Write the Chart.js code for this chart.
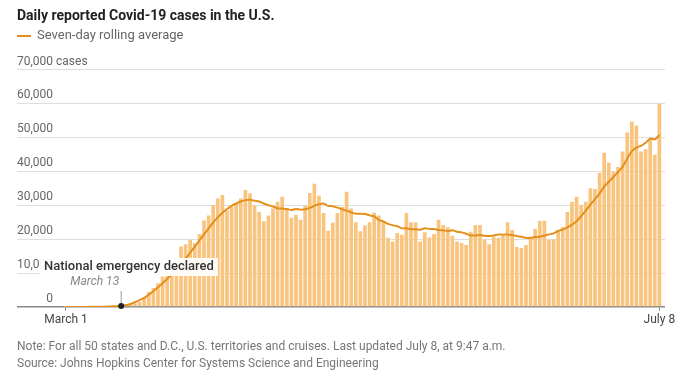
<!DOCTYPE html>
<html lang="en">
<head>
    <meta charset="UTF-8">
    <title>Daily reported Covid-19 cases in the U.S.</title>
    <script src="https://cdn.jsdelivr.net/npm/chart.js"></script>
    <style>
        html, body { margin: 0; padding: 0; background: #fff; }
        #grafico { width: 700px; height: 377px; }
    </style>
</head>
<body>
    <div id="grafico">
        <canvas id="myChart" width="700" height="377"></canvas>
    </div>
</body>
<script>

    // one value per day, March 1 -> July 8
    const dailyCases = [
        10, 15, 25, 30, 70, 100, 120, 120, 190, 280,
        400, 460, 560, 720, 720, 1000, 1500, 2700, 4400, 5600,
        7000, 9000, 10500, 11000, 12400, 17800, 18500, 19800, 18900, 21500,
        25500, 27000, 30000, 32000, 33000, 28500, 29500, 30500, 32000, 34500,
        33500, 30000, 28000, 25300, 27000, 29000, 31000, 32500, 29200, 26300,
        27200, 25700, 30000, 33600, 36300, 32800, 27700, 22500, 24800, 27700,
        29500, 34000, 29000, 25000, 22300, 24000, 25000, 27800, 27000, 25000,
        20400, 19300, 21800, 21300, 27700, 25000, 25000, 19300, 22000, 20500,
        21500, 25700, 24200, 23500, 21000, 19300, 18900, 18300, 22200, 24200,
        24200, 19800, 18500, 20700, 20400, 21000, 25000, 22700, 17700, 17400,
        18300, 20400, 23000, 25400, 25400, 19800, 19800, 22700, 23600, 28000,
        31000, 32500, 30000, 31000, 35000, 34800, 39600, 45500, 42500, 39900,
        41300, 45800, 51400, 54700, 53500, 45800, 46500, 49300, 44900, 60000
    ];

    const rollingAvg = [
        10, 10, 20, 20, 30, 40, 50, 70, 90, 130,
        180, 240, 350, 550, 900, 1400, 2000, 2700, 3600, 4700,
        5800, 7000, 8300, 9600, 11000, 12600, 14200, 16000, 17800, 19600,
        21400, 23200, 24900, 26400, 27800, 28900, 29800, 30500, 31100, 31500,
        31600, 31300, 31100, 30500, 30000, 29600, 29100, 29000, 28900, 28600,
        28900, 28700, 28800, 29200, 29800, 30300, 30500, 29800, 29700, 29300,
        28800, 28400, 27900, 27500, 27500, 27400, 27000, 26700, 25700, 25200,
        24500, 24100, 23800, 23200, 23200, 22900, 22900, 22800, 23200, 23000,
        23000, 22700, 22600, 22400, 22600, 22200, 22000, 21600, 21100, 21100,
        21200, 21000, 20900, 21100, 21400, 21300, 21400, 21200, 20900, 20700,
        20400, 20400, 20600, 20700, 21100, 21400, 21700, 22400, 22800, 23500,
        24300, 25300, 26800, 28400, 30200, 31800, 33400, 35500, 36900, 38300,
        39800, 41300, 43700, 45900, 47000, 47500, 48400, 49600, 49400, 50700
    ];

    const tickDays = [0, 129];
    const tickLabels = ['March 1', 'July 8'];
    const emergencyDay = 12;

    const FONT = 'Roboto, "Noto Sans", sans-serif';
    const barColor = '#f9c47e';
    const lineColor = '#e3901c';

    // title, legend, notes and the emergency annotation
    const textos = {
        id: 'textos',
        afterDraw(chart) {
            const ctx = chart.ctx;
            const x = chart.scales.x;
            const y = chart.scales.y;
            ctx.save();
            ctx.textBaseline = 'middle';
            ctx.textAlign = 'left';

            ctx.fillStyle = '#222';
            ctx.font = 'bold 14px ' + FONT;
            ctx.fillText('Daily reported Covid-19 cases in the U.S.', 17, 16);

            ctx.strokeStyle = lineColor;
            ctx.lineWidth = 2;
            ctx.beginPath();
            ctx.moveTo(17, 36);
            ctx.lineTo(31, 36);
            ctx.stroke();
            ctx.fillStyle = '#666';
            ctx.font = '13px ' + FONT;
            ctx.fillText('Seven-day rolling average', 37, 36);

            // " cases" after the top tick label
            ctx.font = '12px ' + FONT;
            const w = ctx.measureText('70,000').width;
            ctx.fillStyle = '#666';
            ctx.fillText(' cases', y.right + w, y.getPixelForValue(70000) - 8);

            // annotation
            const ex = x.getPixelForValue(emergencyDay);
            const base = y.getPixelForValue(0);
            ctx.font = '500 13px ' + FONT;
            const label = 'National emergency declared';
            const lw = ctx.measureText(label).width;
            ctx.fillStyle = 'rgba(255,255,255,0.92)';
            ctx.fillRect(40, 258, lw + 8, 18);
            ctx.fillStyle = '#333';
            ctx.fillText(label, 44, 267);

            ctx.font = 'italic 12px ' + FONT;
            ctx.fillStyle = '#888';
            ctx.textAlign = 'right';
            ctx.fillText('March 13', ex - 2, 282);

            ctx.strokeStyle = '#999';
            ctx.lineWidth = 1;
            ctx.beginPath();
            ctx.moveTo(ex, 291);
            ctx.lineTo(ex, base);
            ctx.stroke();
            ctx.fillStyle = '#222';
            ctx.beginPath();
            ctx.arc(ex, base - 1, 3, 0, Math.PI * 2);
            ctx.fill();

            ctx.textAlign = 'left';
            ctx.fillStyle = '#777';
            ctx.font = '12px ' + FONT;
            ctx.fillText('Note: For all 50 states and D.C., U.S. territories and cruises. Last updated July 8, at 9:47 a.m.', 17, 347);
            ctx.fillText('Source: Johns Hopkins Center for Systems Science and Engineering', 17, 364);
            ctx.restore();
        }
    };

    const data = {
        datasets: [{
            type: 'line',
            label: 'Seven-day rolling average',
            data: rollingAvg.map((v, i) => ({ x: i, y: v })),
            borderColor: lineColor,
            borderWidth: 2,
            pointRadius: 0,
            tension: 0.3,
            order: 0
        }, {
            type: 'bar',
            label: 'Daily cases',
            data: dailyCases.map((v, i) => ({ x: i, y: v })),
            backgroundColor: barColor,
            barPercentage: 0.8,
            categoryPercentage: 1,
            order: 1
        }]
    };

    const config = {
        data: data,
        options: {
            responsive: false,
            animation: false,
            layout: { padding: { left: 17, right: 35, top: 69.5, bottom: 46 } },
            plugins: {
                legend: { display: false },
                title: { display: false },
                tooltip: { enabled: false }
            },
            scales: {
                x: {
                    type: 'linear',
                    offset: false,
                    min: -10.65,
                    max: 130.22,
                    afterBuildTicks: (s) => { s.ticks = tickDays.map(v => ({ value: v })); },
                    afterFit: (s) => { s.height = 24; },
                    ticks: {
                        callback: (v, i) => tickLabels[i],
                        autoSkip: false,
                        maxRotation: 0,
                        padding: 2,
                        color: '#444',
                        font: { family: FONT, size: 12 }
                    },
                    grid: { offset: false, drawOnChartArea: false, drawTicks: true, tickLength: 4, color: '#999' },
                    border: { display: false }
                },
                y: {
                    min: 0,
                    max: 70000,
                    afterFit: (s) => { s.width = 0; },
                    ticks: {
                        stepSize: 10000,
                        mirror: true,
                        crossAlign: 'far',
                        padding: 0,
                        labelOffset: -8,
                        color: '#666',
                        font: { family: FONT, size: 12 },
                        callback: (v) => v.toLocaleString('en-US')
                    },
                    grid: {
                        drawTicks: false,
                        color: (c) => c.tick && c.tick.value === 0 ? '#888' : '#dedede',
                        lineWidth: (c) => c.tick && c.tick.value === 0 ? 1.5 : 1
                    },
                    border: { display: false }
                }
            }
        },
        plugins: [textos]
    };

    const myChart = new Chart(document.getElementById('myChart'), config);

</script>
</html>
